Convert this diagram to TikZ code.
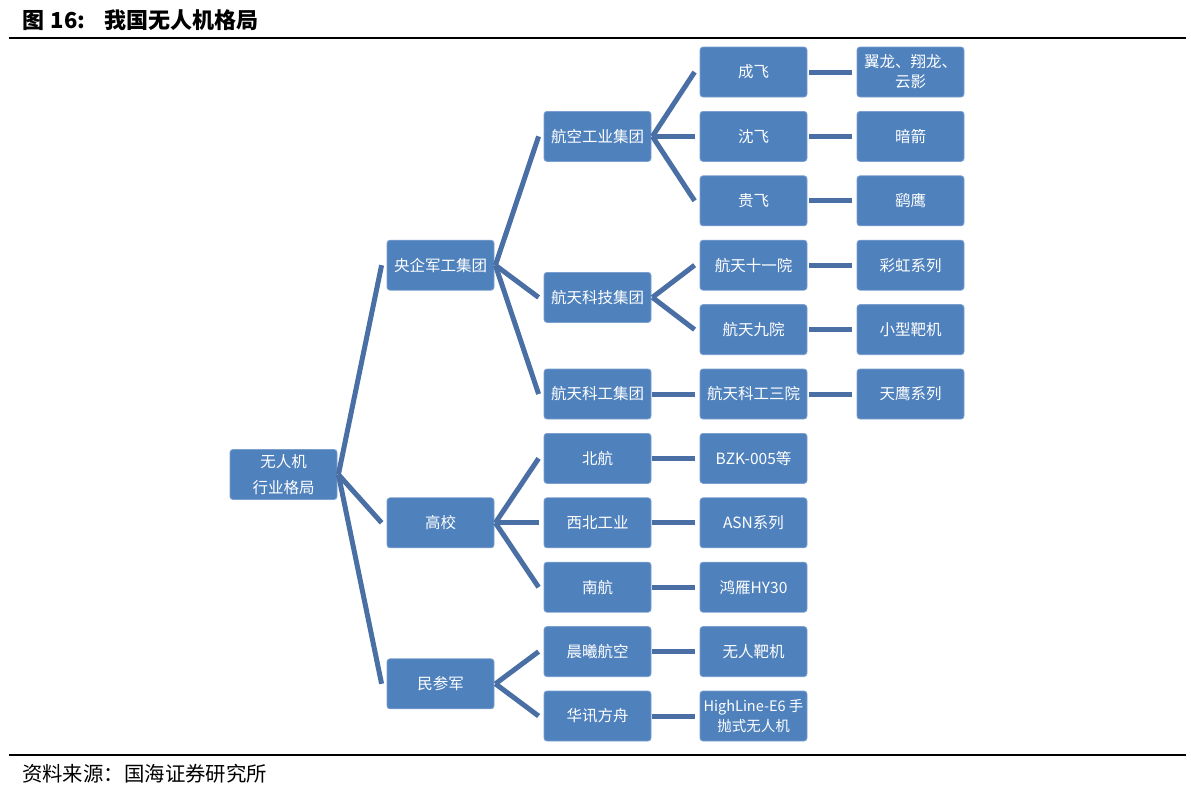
\documentclass[tikz,border=0pt]{standalone}
\usepackage{fontspec}
\setmainfont{Noto Sans CJK SC}
\definecolor{boxblue}{HTML}{4F81BD}
\definecolor{boxrim}{HTML}{7B9FCF}
\definecolor{linkblue}{HTML}{4A6FA5}

\begin{document}
\begin{tikzpicture}[x=1pt,y=-1pt]
      \useasboundingbox (0,0) rectangle (1191,796);

      \node[anchor=base west,inner sep=0pt,font=\fontsize{22}{24}\selectfont\bfseries] (title) at (22,28) {图\hspace{0.3em}16:\hspace{0.85em}我国无人机格局};
      \draw[line width=1.3pt] (9,38) -- (1186,38);
      \draw[line width=1.3pt] (9,755) -- (1186,755);
      \node[anchor=base west,inner sep=0pt,font=\fontsize{20.4}{22}\selectfont] (src) at (22,781) {资料来源：国海证券研究所};

      \begin{scope}[every node/.style={rectangle,rounded corners=3pt,draw=boxrim,line width=0.8pt,fill=boxblue,text=white,minimum width=107pt,minimum height=50pt,inner sep=2pt,align=center,font=\fontsize{15.5}{20}\selectfont}]
        \node[font=\fontsize{15.5}{26}\selectfont] (root) at (283.5,474.5) {无人机\\行业格局};

        \node (yq)  at (440.5,265.2) {央企军工集团};
        \node (gx)  at (440.5,522.8) {高校};
        \node (mc)  at (440.5,683.8) {民参军};

        \node (hk)  at (597.5,136.4) {航空工业集团};
        \node (ht)  at (597.5,297.4) {航天科技集团};
        \node (hg)  at (597.5,394)   {航天科工集团};
        \node (bh)  at (597.5,458.4) {北航};
        \node (xb)  at (597.5,522.8) {西北工业};
        \node (nh)  at (597.5,587.2) {南航};
        \node (cx)  at (597.5,651.6) {晨曦航空};
        \node (hx)  at (597.5,716)   {华讯方舟};

        \node (cf)  at (753.5,72)    {成飞};
        \node (sf)  at (753.5,136.4) {沈飞};
        \node (gf)  at (753.5,200.8) {贵飞};
        \node (y11) at (753.5,265.2) {航天十一院};
        \node (y9)  at (753.5,329.6) {航天九院};
        \node (y3)  at (753.5,394)   {航天科工三院};
        \node (bzk) at (753.5,458.4) {BZK-005等};
        \node (asn) at (753.5,522.8) {ASN系列};
        \node (hy)  at (753.5,587.2) {鸿雁HY30};
        \node (bj)  at (753.5,651.6) {无人靶机};
        \node[font=\fontsize{14.5}{20}\selectfont,inner sep=1pt] (hl) at (753.5,716) {HighLine-E6 手\\抛式无人机};

        \node (yl)  at (910.5,72)    {翼龙、翔龙、\\云影};
        \node (aj)  at (910.5,136.4) {暗箭};
        \node (yy)  at (910.5,200.8) {鹞鹰};
        \node (chx) at (910.5,265.2) {彩虹系列};
        \node (xx)  at (910.5,329.6) {小型靶机};
        \node (ty)  at (910.5,394)   {天鹰系列};
      \end{scope}

      \begin{scope}[every edge/.style={draw=linkblue,line width=5pt}]
        \path ([xshift=1pt]root.east) edge ([xshift=-5pt]yq.west);
        \path ([xshift=1pt]root.east) edge ([xshift=-5pt]gx.west);
        \path ([xshift=1pt]root.east) edge ([xshift=-5pt]mc.west);

        \path ([xshift=1pt]yq.east) edge ([xshift=-5pt]hk.west);
        \path ([xshift=1pt]yq.east) edge ([xshift=-5pt]ht.west);
        \path ([xshift=1pt]yq.east) edge ([xshift=-5pt]hg.west);
        \path ([xshift=1pt]gx.east) edge ([xshift=-5pt]bh.west);
        \path ([xshift=1pt]gx.east) edge ([xshift=-5pt]xb.west);
        \path ([xshift=1pt]gx.east) edge ([xshift=-5pt]nh.west);
        \path ([xshift=1pt]mc.east) edge ([xshift=-5pt]cx.west);
        \path ([xshift=1pt]mc.east) edge ([xshift=-5pt]hx.west);

        \path ([xshift=1pt]hk.east) edge ([xshift=-5pt]cf.west);
        \path ([xshift=1pt]hk.east) edge ([xshift=-5pt]sf.west);
        \path ([xshift=1pt]hk.east) edge ([xshift=-5pt]gf.west);
        \path ([xshift=1pt]ht.east) edge ([xshift=-5pt]y11.west);
        \path ([xshift=1pt]ht.east) edge ([xshift=-5pt]y9.west);
        \path ([xshift=1pt]hg.east) edge ([xshift=-5pt]y3.west);
        \path ([xshift=1pt]bh.east) edge ([xshift=-5pt]bzk.west);
        \path ([xshift=1pt]xb.east) edge ([xshift=-5pt]asn.west);
        \path ([xshift=1pt]nh.east) edge ([xshift=-5pt]hy.west);
        \path ([xshift=1pt]cx.east) edge ([xshift=-5pt]bj.west);
        \path ([xshift=1pt]hx.east) edge ([xshift=-5pt]hl.west);

        \path ([xshift=2pt]cf.east) edge ([xshift=-5pt]yl.west);
        \path ([xshift=2pt]sf.east) edge ([xshift=-5pt]aj.west);
        \path ([xshift=2pt]gf.east) edge ([xshift=-5pt]yy.west);
        \path ([xshift=2pt]y11.east) edge ([xshift=-5pt]chx.west);
        \path ([xshift=2pt]y9.east) edge ([xshift=-5pt]xx.west);
        \path ([xshift=2pt]y3.east) edge ([xshift=-5pt]ty.west);
      \end{scope}

\end{tikzpicture}
\end{document}
